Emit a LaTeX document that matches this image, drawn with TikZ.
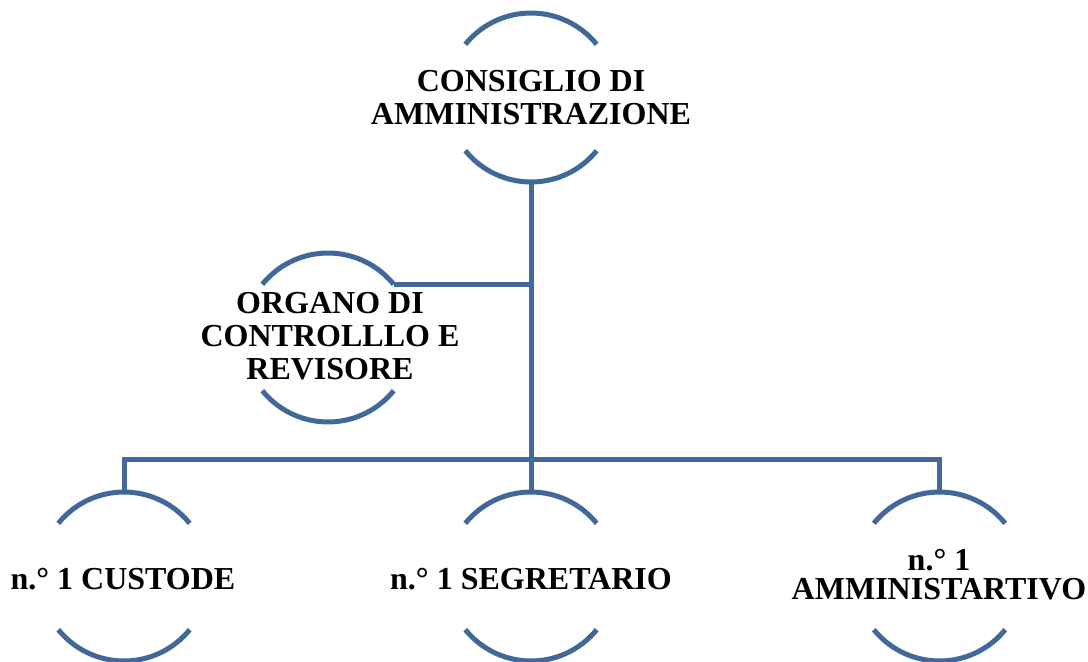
\documentclass[tikz,border=0pt]{standalone}
\usepackage{fontspec}
\setmainfont{Liberation Serif}
\definecolor{ringblue}{RGB}{64,104,152}
\tikzset{
  ring/.style={circle, draw=none, inner sep=0pt, outer sep=0pt, minimum size=84.5pt},
  lbl/.style={align=center, inner sep=0pt, font=\bfseries\fontsize{16}{16.5}\selectfont, text=black},
  link/.style={draw=ringblue, line width=2.5pt},
}
\newcommand{\ringarcs}[1]{%
  \draw[link] (#1.39) arc[start angle=39, end angle=141, radius=42.25pt];
  \draw[link] (#1.219) arc[start angle=219, end angle=321, radius=42.25pt];
}
\begin{document}
\begin{tikzpicture}[x=0.5pt,y=-0.5pt]
\useasboundingbox (0,0) rectangle (1088,661);
% rings
\node[ring] (cda) at (531,97.5) {};
\node[ring] (org) at (328,337.5) {};
\node[ring] (cus) at (124,576.5) {};
\node[ring] (seg) at (531,576.5) {};
\node[ring] (amm) at (939.5,576.5) {};
\ringarcs{cda}
\ringarcs{org}
\ringarcs{cus}
\ringarcs{seg}
\ringarcs{amm}
% labels
\node[lbl] (tcda) at (531,98) {CONSIGLIO DI\\AMMINISTRAZIONE};
\node[lbl] (torg) at (330,336) {ORGANO DI\\CONTROLLLO E\\REVISORE};
\node[lbl] (tcus) at (123,579) {n.° 1 CUSTODE};
\node[lbl] (tseg) at (531,579) {n.° 1 SEGRETARIO};
\node[lbl, font=\bfseries\fontsize{16}{14.5}\selectfont] (tamm) at (939,575) {n.° 1\\AMMINISTARTIVO};
% connectors
\coordinate (bar) at (531,459);
\draw[link] (cda.south) -- (seg.north);
\draw[link] (org.39) -- (org.39 -| cda.south);
\draw[link] (cus.north) |- (bar) -| (amm.north);
\end{tikzpicture}
\end{document}
